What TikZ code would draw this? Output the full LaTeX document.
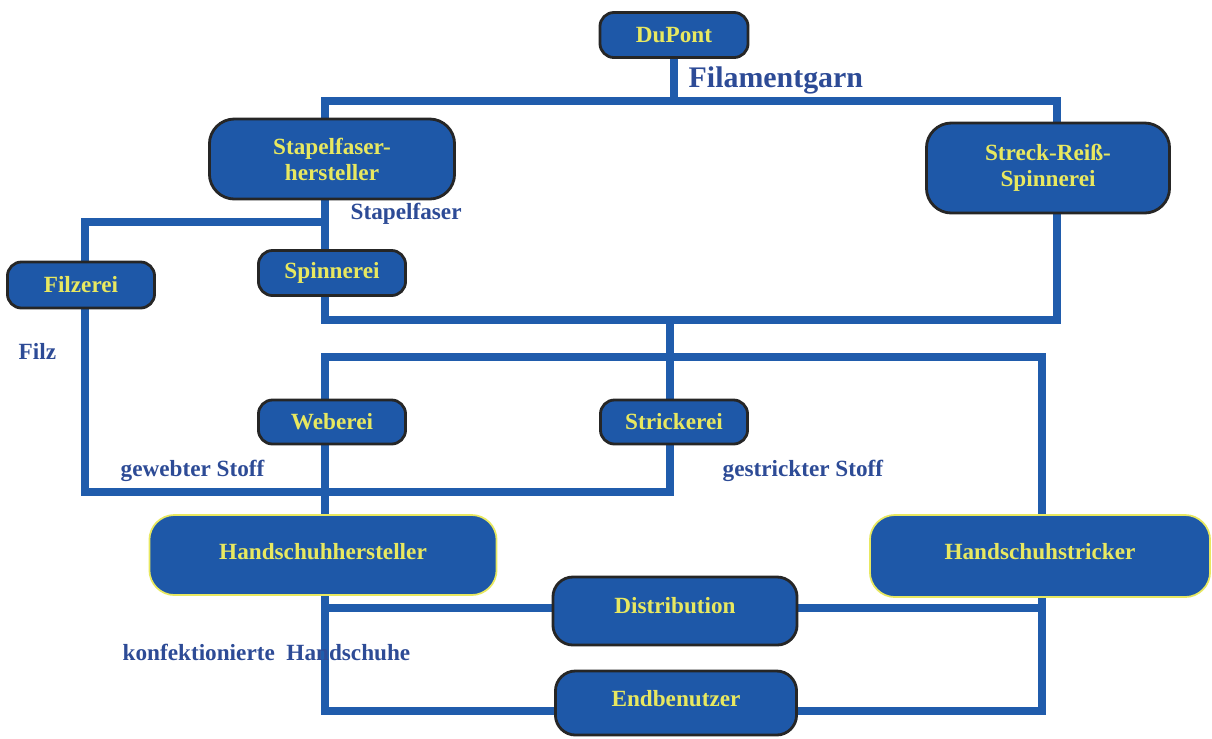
\documentclass[tikz,border=0pt]{standalone}
\usepackage{fontspec}
\setmainfont{Liberation Serif}
\usetikzlibrary{backgrounds}
\definecolor{lineblue}{RGB}{32,92,172}
\definecolor{boxfill}{RGB}{30,88,168}
\definecolor{boxtxt}{RGB}{232,232,96}
\definecolor{lblblue}{RGB}{45,75,150}
\tikzset{conn/.style={draw=lineblue,line width=0.8mm},
 smallbox/.style={draw=black!85,fill=boxfill,line width=0.8pt,rounded corners=0.14cm,
  text=boxtxt,font=\bfseries\fontsize{6.6}{7.4}\selectfont,align=center,inner sep=0pt},
 bigbox/.style={smallbox,rounded corners=0.25cm},
 glovebox/.style={smallbox,draw=boxtxt,line width=0.5pt,rounded corners=0.25cm},
 flow/.style={text=lblblue,font=\bfseries\fontsize{6.6}{8}\selectfont,anchor=west,inner sep=0pt}}

\begin{document}
\begin{tikzpicture}[x=0.01cm,y=-0.01cm]
\useasboundingbox (0,0) rectangle (1212,738);
% boxes
\node[smallbox,minimum width=1.48cm,minimum height=0.45cm] (dupont) at (674,35) {DuPont};
\node[bigbox,minimum width=2.45cm,minimum height=0.8cm] (stapelhst) at (332,159) {Stapelfaser-\\hersteller};
\node[bigbox,minimum width=2.43cm,minimum height=0.9cm] (streck) at (1048,168) {Streck-Reiß-\\Spinnerei};
\node[smallbox,minimum width=1.47cm,minimum height=0.46cm] (filzerei) at (81,285) {Filzerei};
\node[smallbox,minimum width=1.47cm,minimum height=0.45cm] (spinnerei) at (332,273) {Spinnerei};
\node[smallbox,minimum width=1.47cm,minimum height=0.44cm] (weberei) at (332,422) {Weberei};
\node[smallbox,minimum width=1.47cm,minimum height=0.44cm] (strickerei) at (674,422) {Strickerei};
\node[glovebox,minimum width=3.47cm,minimum height=0.8cm,
 label={[boxtxt,font=\bfseries\fontsize{6.6}{7.4}\selectfont,anchor=north,yshift=-0.17cm]north:Handschuhhersteller}] (hsh) at (323,555) {};
\node[glovebox,minimum width=3.4cm,minimum height=0.82cm,
 label={[boxtxt,font=\bfseries\fontsize{6.6}{7.4}\selectfont,anchor=north,yshift=-0.17cm]north:Handschuhstricker}] (hstr) at (1040,556) {};
\node[bigbox,rounded corners=0.2cm,minimum width=2.44cm,minimum height=0.68cm,text depth=0.12cm] (distrib) at (675,611) {Distribution};
\node[bigbox,rounded corners=0.2cm,minimum width=2.41cm,minimum height=0.64cm,text depth=0.1cm] (endben) at (676,703) {Endbenutzer};
% flow labels
\node[flow,font=\bfseries\fontsize{8.5}{10}\selectfont] (fgarn) at (688,80) {Filamentgarn};
\node[flow] (stapel) at (350,214) {Stapelfaser};
\node[flow] (filz) at (18,351) {Filz};
\node[flow] (gewebt) at (120,471) {gewebter Stoff};
\node[flow] (gestrickt) at (722,471) {gestrickter Stoff};
\node[flow] (konf) at (122,652) {konfektionierte\enspace Handschuhe};
% junctions
\coordinate (fgl) at (325,101); \coordinate (fgr) at (1057,101);
\coordinate (sbl) at (325,320); \coordinate (sbr) at (1057,320);
\coordinate (fzt) at (85,222); \coordinate (mid) at (670,320);
\coordinate (wbl) at (325,357); \coordinate (wbr) at (1042,357);
\coordinate (gsl) at (85,492); \coordinate (gsr) at (670,492);
\coordinate (dl) at (325,608); \coordinate (dr) at (1042,608);
\coordinate (kl) at (325,711); \coordinate (er) at (1042,711);
\begin{scope}[on background layer]
\draw[conn] (dupont) -- (dupont |- fgl);
\draw[conn] (stapelhst.north -| fgl) -- (fgl) -- (fgr) -- (streck.north -| fgr);
\draw[conn] (streck.south -| sbr) -- (sbr) -- (sbl) -- (spinnerei.south -| sbl);
\draw[conn] (stapelhst.south -| sbl) -- (spinnerei.north -| sbl);
\draw[conn] (fzt -| sbl) -- (fzt) -- (filzerei.north -| fzt);
\draw[conn] (mid) -- (strickerei.north -| mid);
\draw[conn] (weberei.north -| wbl) -- (wbl) -- (wbr) -- (hstr.north -| wbr);
\draw[conn] (filzerei.south -| gsl) -- (gsl) -- (gsr) -- (strickerei.south -| gsr);
\draw[conn] (weberei.south -| wbl) -- (hsh.north -| wbl);
\draw[conn] (hsh.south -| kl) -- (kl) -- (endben.west |- kl);
\draw[conn] (dl) -- (distrib.west |- dl);
\draw[conn] (distrib.east |- dr) -- (dr);
\draw[conn] (hstr.south -| dr) -- (er) -- (endben.east |- er);
\end{scope}
\end{tikzpicture}
\end{document}
